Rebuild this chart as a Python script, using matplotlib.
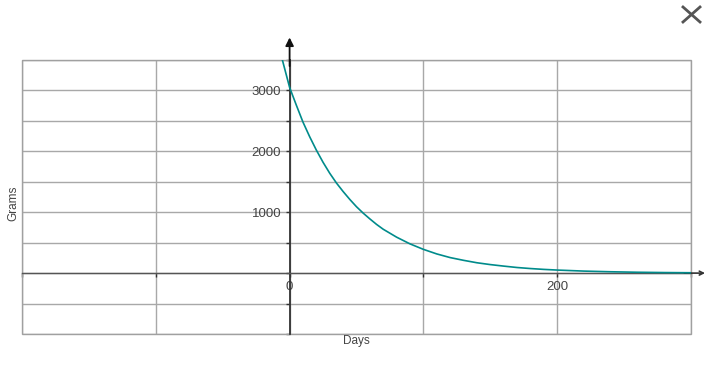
import matplotlib
matplotlib.use('Agg')
import matplotlib.pyplot as plt
from matplotlib.patches import Rectangle
from matplotlib.lines import Line2D

plt.rcParams['font.family'] = ['Liberation Sans', 'DejaVu Sans']

# values
days = [-5.4, 0, 5, 10, 15, 20, 25, 30, 35, 40, 45, 50, 55, 60, 65, 70, 75, 80,
        90, 100, 110, 120, 130, 140, 150, 160, 170, 180, 190, 200, 220, 240,
        260, 280, 300]
grams = [3500, 3050, 2760, 2480, 2240, 2020, 1820, 1640, 1480, 1340, 1210, 1090,
         985, 890, 800, 720, 655, 590, 480, 390, 315, 255, 210, 170, 140, 115,
         92, 75, 61, 50, 33, 22, 14, 9, 6]

x_ticks = [-200, -100, 0, 100, 200, 300]
x_labels = ['', '', '0', '', '200', '']
y_ticks = [-1000, -500, 0, 500, 1000, 1500, 2000, 2500, 3000, 3500]
y_labels = ['', '', '', '', '1000', '', '2000', '', '3000', '']

fig = plt.figure(figsize=(7.05, 3.92), dpi=100)
ax = fig.add_axes([22/705, 1-334/392, 669/705, 274/392])

ax.set_xlim(-200, 300)
ax.set_ylim(-1000, 3500)

ax.plot(days, grams, color='#008b8b', lw=1.2, zorder=4)

ax.set_xticks(x_ticks)
ax.set_xticklabels(x_labels)
ax.set_yticks(y_ticks)
ax.set_yticklabels(y_labels)
ax.grid(True, color='#a8a8a8', lw=1)
ax.set_axisbelow(True)

for s in ['top', 'right']:
    ax.spines[s].set_visible(False)
ax.spines['left'].set_position(('data', 0))
ax.spines['bottom'].set_position(('data', 0))
ax.spines['left'].set_color('#333333')
ax.spines['bottom'].set_color('#555555')
ax.spines['left'].set_linewidth(1.3)
ax.spines['bottom'].set_linewidth(1.0)
ax.tick_params(direction='out', length=3, width=1, color='#333333',
               labelsize=9.5, labelcolor='#444444', pad=3)

# outer frame
ax.add_patch(Rectangle((0, 0), 1, 1, transform=ax.transAxes, fill=False,
                       edgecolor='#a0a0a0', lw=1, clip_on=False, zorder=1))

# axis arrows
ax.annotate('', xy=(0, 3870), xytext=(0, 3400),
            arrowprops=dict(arrowstyle='-|>', color='#111111', lw=1.3,
                            mutation_scale=12, shrinkA=0, shrinkB=0),
            annotation_clip=False)
ax.annotate('', xy=(310.5, 0), xytext=(295, 0),
            arrowprops=dict(arrowstyle='->', color='#333333', lw=1.2,
                            mutation_scale=7, shrinkA=0, shrinkB=0),
            annotation_clip=False)

fig.text(13/705, 1-203/392, 'Grams', rotation=90, ha='center', va='center',
         fontsize=8.5, color='#444444')
fig.text(356/705, 1-341/392, 'Days', ha='center', va='center',
         fontsize=8.5, color='#444444')

# close icon
for xs, ys in [([683, 700], [7, 22]), ([683, 700], [22, 7])]:
    fig.add_artist(Line2D([x/705 for x in xs], [1-y/392 for y in ys],
                          color='#555555', lw=2, transform=fig.transFigure))

fig.savefig('out.png', dpi=100)
